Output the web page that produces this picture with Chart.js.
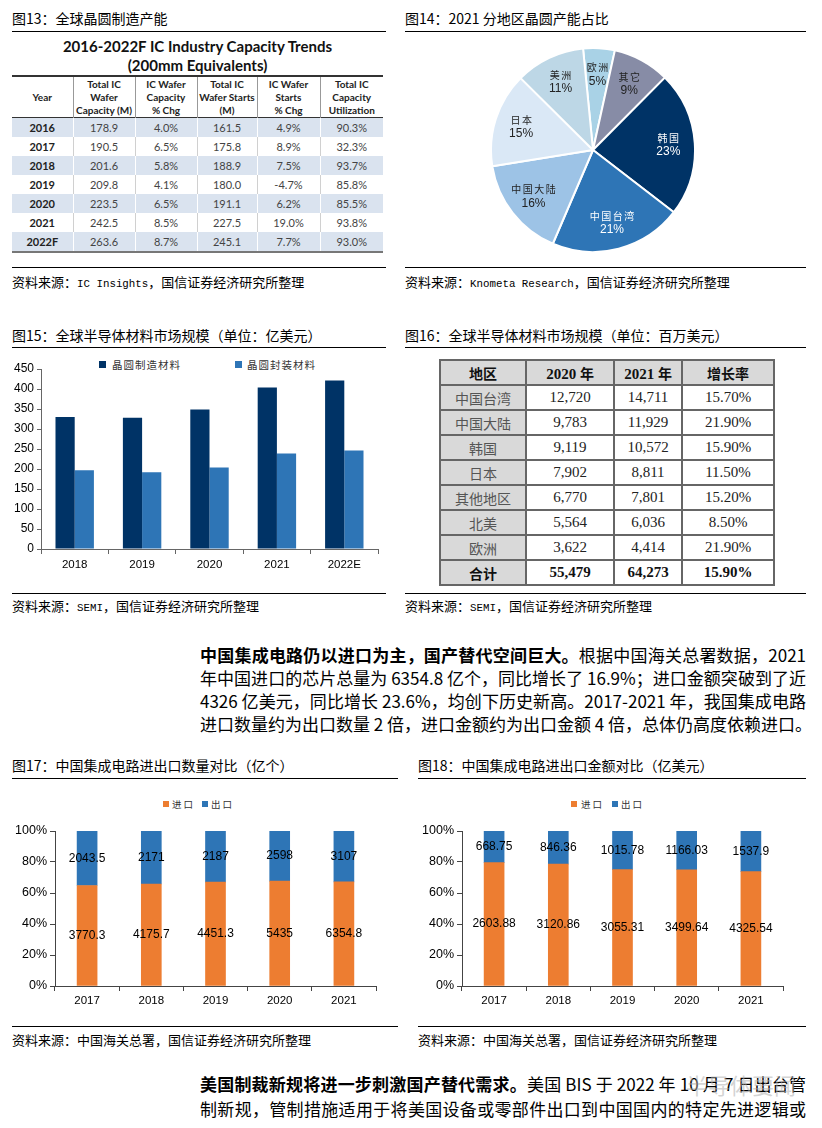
<!DOCTYPE html>
<html><head><meta charset="utf-8">
<script src="https://cdn.jsdelivr.net/npm/chart.js@4.4.0/dist/chart.umd.min.js"></script>
<style>
body{margin:0;background:#fff;width:822px;height:1128px;position:relative;overflow:hidden;font-family:"Noto Sans CJK SC",sans-serif;color:#000;}
.title{position:absolute;font-size:14px;line-height:20px;white-space:nowrap;}
.hr{position:absolute;height:0;border-top:1px solid #000;}
.src{position:absolute;font-size:13px;line-height:18px;white-space:nowrap;}
.mono{font-family:"Liberation Mono",monospace;font-size:10.8px;}
canvas{position:absolute;}
.t13h{position:absolute;left:12px;width:371px;text-align:center;font-family:Lato,"Liberation Sans",sans-serif;font-weight:bold;font-size:15px;line-height:18px;color:#111;}
#t13{position:absolute;left:12px;top:75px;width:371px;border-collapse:collapse;table-layout:fixed;font-family:Lato,"Liberation Sans",sans-serif;}
#t13 th{font-size:10px;font-weight:bold;line-height:13px;height:40px;padding:0;border-right:1px solid #999;vertical-align:middle;color:#222;}
#t13 th:last-child{border-right:none;}
#t13 thead tr{border-top:2px solid #333;border-bottom:1.5px solid #333;}
#t13 td{font-size:11px;height:19px;padding:0;text-align:center;color:#444;border-right:1px solid #d0d0d0;}
#t13 td:last-child{border-right:none;}
#t13 td:first-child{font-weight:bold;color:#222;}
#t13 tbody tr:nth-child(odd){background:#dae3ef;}
#t13 tbody tr:nth-child(odd) td{border-right-color:#fff;}
#t13 tbody tr:last-child{border-bottom:2px solid #777;}
#t16{position:absolute;left:439px;top:359px;width:334px;border-collapse:collapse;table-layout:fixed;border:2px solid #444;}
#t16 td{border:2px solid #666;height:23px;padding:0;text-align:center;font-family:"Liberation Serif",serif;font-size:15px;color:#222;}
#t16 td.reg{background:#d9d9d9;font-family:"Noto Sans CJK SC";font-size:14px;color:#555;}
#t16 tr.head td{background:#d9d9d9;font-weight:bold;color:#111;}
#t16 tr.head td .cj{font-family:"Noto Sans CJK SC";font-size:14px;}
#t16 tr.total td{font-weight:bold;color:#111;}
.para{position:absolute;left:200px;width:606px;font-size:17px;line-height:23px;height:23px;text-align:justify;text-align-last:justify;white-space:nowrap;color:#000;}
.lg{position:absolute;white-space:nowrap;font-size:10.5px;line-height:14px;color:#333;}
.sq{position:absolute;width:7px;height:7px;}
</style></head>
<body>

<!-- Section 1 -->
<div class="title" style="left:12px;top:8px;">图13：全球晶圆制造产能</div>
<div class="hr" style="left:12px;top:31px;width:374px;"></div>
<div class="t13h" style="top:37px;">2016-2022F IC Industry Capacity Trends</div>
<div class="t13h" style="top:56px;">(200mm Equivalents)</div>
<table id="t13"><colgroup><col style="width:61px"><col style="width:62px"><col style="width:62px"><col style="width:60px"><col style="width:63px"><col style="width:63px"></colgroup>
<thead><tr id="t13head"></tr></thead><tbody id="t13body"></tbody></table>
<div class="hr" style="left:12px;top:267px;width:374px;"></div>
<div class="src" style="left:12px;top:273px;">资料来源：<span class="mono">IC Insights</span>，国信证券经济研究所整理</div>

<div class="title" style="left:405px;top:8px;">图14：2021 分地区晶圆产能占比</div>
<div class="hr" style="left:405px;top:31px;width:401px;"></div>
<canvas id="pie" width="206" height="206" style="left:490px;top:47px;"></canvas>
<div class="hr" style="left:405px;top:267px;width:401px;"></div>
<div class="src" style="left:405px;top:273px;">资料来源：<span class="mono">Knometa Research</span>，国信证券经济研究所整理</div>

<!-- Section 2 -->
<div class="title" style="left:12px;top:325px;">图15：全球半导体材料市场规模（单位：亿美元）</div>
<div class="hr" style="left:12px;top:347px;width:374px;"></div>
<div class="sq" style="left:99px;top:361px;background:#003366;"></div>
<div class="lg" style="left:112px;top:358px;letter-spacing:1px;">晶圆制造材料</div>
<div class="sq" style="left:235px;top:361px;background:#2e75b6;"></div>
<div class="lg" style="left:247px;top:358px;letter-spacing:1px;">晶圆封装材料</div>
<canvas id="c15" width="390" height="240" style="left:0px;top:350px;"></canvas>
<div class="hr" style="left:12px;top:593px;width:374px;"></div>
<div class="src" style="left:12px;top:597px;">资料来源：<span class="mono">SEMI</span>，国信证券经济研究所整理</div>

<div class="title" style="left:405px;top:325px;">图16：全球半导体材料市场规模（单位：百万美元）</div>
<div class="hr" style="left:405px;top:347px;width:401px;"></div>
<table id="t16"><colgroup><col style="width:86px"><col style="width:88px"><col style="width:68px"><col style="width:92px"></colgroup><tbody id="t16body"></tbody></table>
<div class="hr" style="left:405px;top:593px;width:401px;"></div>
<div class="src" style="left:405px;top:597px;">资料来源：<span class="mono">SEMI</span>，国信证券经济研究所整理</div>

<!-- Paragraph 1 -->
<div class="para" style="top:643px;"><b>中国集成电路仍以进口为主，国产替代空间巨大。</b>根据中国海关总署数据，2021</div>
<div class="para" style="top:666px;">年中国进口的芯片总量为 6354.8 亿个，同比增长了 16.9%；进口金额突破到了近</div>
<div class="para" style="top:689px;">4326 亿美元，同比增长 23.6%，均创下历史新高。2017-2021 年，我国集成电路</div>
<div class="para" style="top:712px;">进口数量约为出口数量 2 倍，进口金额约为出口金额 4 倍，总体仍高度依赖进口。</div>

<!-- Section 3 -->
<div class="title" style="left:12px;top:755px;">图17：中国集成电路进出口数量对比（亿个）</div>
<div class="hr" style="left:12px;top:778px;width:386px;"></div>
<div class="sq" style="left:163px;top:801px;width:6px;height:6px;background:#ed7d31;"></div>
<div class="lg" style="left:172px;top:797px;font-size:9.5px;letter-spacing:2px;">进口</div>
<div class="sq" style="left:202px;top:801px;width:6px;height:6px;background:#2e75b6;"></div>
<div class="lg" style="left:211px;top:797px;font-size:9.5px;letter-spacing:2px;">出口</div>
<canvas id="c17" width="400" height="210" style="left:0px;top:815px;"></canvas>
<div class="hr" style="left:12px;top:1026px;width:386px;"></div>
<div class="src" style="left:12px;top:1031px;">资料来源：中国海关总署，国信证券经济研究所整理</div>

<div class="title" style="left:418px;top:755px;">图18：中国集成电路进出口金额对比（亿美元）</div>
<div class="hr" style="left:418px;top:778px;width:388px;"></div>
<div class="sq" style="left:571px;top:801px;width:6px;height:6px;background:#ed7d31;"></div>
<div class="lg" style="left:581px;top:797px;font-size:9.5px;letter-spacing:2px;">进口</div>
<div class="sq" style="left:612px;top:801px;width:6px;height:6px;background:#2e75b6;"></div>
<div class="lg" style="left:621px;top:797px;font-size:9.5px;letter-spacing:2px;">出口</div>
<canvas id="c18" width="400" height="210" style="left:410px;top:815px;"></canvas>
<div class="hr" style="left:418px;top:1026px;width:388px;"></div>
<div class="src" style="left:418px;top:1031px;">资料来源：中国海关总署，国信证券经济研究所整理</div>

<!-- Paragraph 2 -->
<div class="para" style="top:1072px;"><b>美国制裁新规将进一步刺激国产替代需求。</b>美国 BIS 于 2022 年 10 月 7 日出台管</div>
<div class="para" style="top:1097px;">制新规，管制措施适用于将美国设备或零部件出口到中国国内的特定先进逻辑或</div>
<div style="position:absolute;left:686px;top:1070px;font-size:22px;line-height:28px;color:rgba(175,175,175,0.55);white-space:nowrap;">半导体要闻</div>

<script>
// ---------- Data ----------
// Fig 13 table
const t13Headers = ['Year','Total IC<br>Wafer<br>Capacity (M)','IC Wafer<br>Capacity<br>% Chg','Total IC<br>Wafer Starts<br>(M)','IC Wafer<br>Starts<br>% Chg','Total IC<br>Capacity<br>Utilization'];
const t13Years = ['2016','2017','2018','2019','2020','2021','2022F'];
const t13Capacity = ['178.9','190.5','201.6','209.8','223.5','242.5','263.6'];
const t13CapChg = ['4.0%','6.5%','5.8%','4.1%','6.5%','8.5%','8.7%'];
const t13Starts = ['161.5','175.8','188.9','180.0','191.1','227.5','245.1'];
const t13StartsChg = ['4.9%','8.9%','7.5%','-4.7%','6.2%','19.0%','7.7%'];
const t13Util = ['90.3%','32.3%','93.7%','85.8%','85.5%','93.8%','93.0%'];

// Fig 14 pie
const pieLabels = ['欧洲','其它','韩国','中国台湾','中国大陆','日本','美洲'];
const pieValues = [5, 9, 23, 21, 16, 15, 11];

// Fig 15 bars
const matYears = ['2018','2019','2020','2021','2022E'];
const waferFab = [330, 328, 349, 404, 421];
const packaging = [197, 192, 204, 239, 246];

// Fig 16 table
const t16Header = ['地区','2020 年','2021 年','增长率'];
const t16Regions = ['中国台湾','中国大陆','韩国','日本','其他地区','北美','欧洲','合计'];
const t16Y2020 = ['12,720','9,783','9,119','7,902','6,770','5,564','3,622','55,479'];
const t16Y2021 = ['14,711','11,929','10,572','8,811','7,801','6,036','4,414','64,273'];
const t16Growth = ['15.70%','21.90%','15.90%','11.50%','15.20%','8.50%','21.90%','15.90%'];

// Fig 17 / 18 stacked
const tradeYears = ['2017','2018','2019','2020','2021'];
const importQty = [3770.3, 4175.7, 4451.3, 5435, 6354.8];
const exportQty = [2043.5, 2171, 2187, 2598, 3107];
const importVal = [2603.88, 3120.86, 3055.31, 3499.64, 4325.54];
const exportVal = [668.75, 846.36, 1015.78, 1166.03, 1537.9];

// ---------- Tables ----------
(function(){
  const hr = document.getElementById('t13head');
  t13Headers.forEach(h=>{const th=document.createElement('th');th.innerHTML=h;hr.appendChild(th);});
  const tb = document.getElementById('t13body');
  t13Years.forEach((y,i)=>{
    const tr=document.createElement('tr');
    [y,t13Capacity[i],t13CapChg[i],t13Starts[i],t13StartsChg[i],t13Util[i]].forEach(v=>{
      const td=document.createElement('td');td.textContent=v;tr.appendChild(td);});
    tb.appendChild(tr);
  });
  const b16=document.getElementById('t16body');
  const h=document.createElement('tr');h.className='head';
  t16Header.forEach(v=>{const td=document.createElement('td');
    td.innerHTML=v.replace(/([\u4e00-\u9fff]+)/g,'<span class="cj">$1</span>');h.appendChild(td);});
  b16.appendChild(h);
  t16Regions.forEach((r,i)=>{
    const tr=document.createElement('tr');
    if(i===t16Regions.length-1) tr.className='total';
    const a=document.createElement('td');a.className='reg';a.textContent=r;
    if(i===t16Regions.length-1){a.style.color='#111';a.style.fontWeight='bold';}
    tr.appendChild(a);
    [t16Y2020[i],t16Y2021[i],t16Growth[i]].forEach(v=>{const td=document.createElement('td');td.textContent=v;tr.appendChild(td);});
    b16.appendChild(tr);
  });
})();

// ---------- Charts ----------
Chart.defaults.font.family = '"Liberation Sans", Arial, sans-serif';
Chart.defaults.color = '#000';
Chart.defaults.animation = false;

const pieColors = ['#a9d2e6','#878ca6','#003366','#2e75b6','#9dc3e6','#dae8f6','#bdd7e6'];
const pieTextColors = ['#222','#222','#fff','#fff','#222','#222','#222'];

const pieLabelPlugin = {
  id:'pieLabels',
  afterDatasetsDraw(chart){
    const ctx=chart.ctx; const meta=chart.getDatasetMeta(0);
    meta.data.forEach((arc,i)=>{
      const p=arc.getProps(['x','y','startAngle','endAngle','outerRadius'],true);
      const mid=(p.startAngle+p.endAngle)/2; const r=p.outerRadius*0.74;
      const x=p.x+Math.cos(mid)*r, y=p.y+Math.sin(mid)*r;
      ctx.save();
      ctx.fillStyle=pieTextColors[i]; ctx.textAlign='center'; ctx.textBaseline='middle';
      ctx.font='10px "Noto Sans CJK SC"';
      ctx.letterSpacing='1.5px';
      ctx.fillText(chart.data.labels[i], x+0.75, y-7);
      ctx.letterSpacing='0px';
      ctx.font='12px "Liberation Sans", Arial';
      ctx.fillText(chart.data.datasets[0].data[i]+'%', x, y+7);
      ctx.restore();
    });
  }
};

new Chart(document.getElementById('pie'),{
  type:'pie',
  data:{labels:pieLabels,datasets:[{data:pieValues,backgroundColor:pieColors,borderColor:'#fff',borderWidth:2,hoverOffset:0}]},
  options:{responsive:false,devicePixelRatio:1,rotation:-5.6,layout:{padding:0},
    plugins:{legend:{display:false},tooltip:{enabled:false}}},
  plugins:[pieLabelPlugin]
});

new Chart(document.getElementById('c15'),{
  type:'bar',
  data:{labels:matYears,datasets:[
    {label:'晶圆制造材料',data:waferFab,backgroundColor:'#003366',categoryPercentage:0.57,barPercentage:1},
    {label:'晶圆封装材料',data:packaging,backgroundColor:'#2e75b6',categoryPercentage:0.57,barPercentage:1}
  ]},
  options:{responsive:false,devicePixelRatio:1,layout:{padding:{left:0,right:12,top:19,bottom:0}},
    plugins:{legend:{display:false},tooltip:{enabled:false}},
    scales:{
      x:{grid:{drawOnChartArea:false,drawTicks:true,tickLength:5,color:'#666'},border:{color:'#666'},
         ticks:{font:{size:11.5},color:'#000',padding:4},afterFit(s){s.height=41;}},
      y:{min:0,max:450,ticks:{stepSize:50,font:{size:12},color:'#000',padding:3},
         grid:{drawOnChartArea:false,tickLength:4,color:'#666'},border:{color:'#666'},afterFit(s){s.width=41;}}
    }}
});

const segLabelPlugin = {
  id:'segLabels',
  afterDatasetsDraw(chart){
    const ctx=chart.ctx;
    chart.data.datasets.forEach((ds,di)=>{
      const meta=chart.getDatasetMeta(di);
      meta.data.forEach((bar,i)=>{
        const p=bar.getProps(['x','y','base'],true);
        ctx.save();
        ctx.font='12px "Liberation Sans", Arial'; ctx.fillStyle='#000';
        ctx.textAlign='center'; ctx.textBaseline='middle';
        ctx.fillText(String(ds.rawValues[i]), p.x, (p.y+p.base)/2);
        ctx.restore();
      });
    });
  }
};

function share(a,b){return a.map((v,i)=>v/(v+b[i])*100);}

function stackedChart(id, imp, exp, yWidth, padRight){
  new Chart(document.getElementById(id),{
    type:'bar',
    data:{labels:tradeYears,datasets:[
      {label:'进口',data:share(imp,exp),rawValues:imp,backgroundColor:'#ed7d31',barThickness:20},
      {label:'出口',data:share(exp,imp),rawValues:exp,backgroundColor:'#2e75b6',barThickness:20}
    ]},
    options:{responsive:false,devicePixelRatio:1,layout:{padding:{left:0,right:padRight,top:16,bottom:0}},
      plugins:{legend:{display:false},tooltip:{enabled:false}},
      scales:{
        x:{stacked:true,grid:{drawOnChartArea:false,drawTicks:true,tickLength:5,color:'#444'},border:{color:'#444'},
           ticks:{font:{size:11.5},color:'#000',padding:3},afterFit(s){s.height=39;}},
        y:{stacked:true,min:0,max:100,ticks:{stepSize:20,font:{size:12.5},color:'#000',padding:3,callback:v=>v+'%'},
           grid:{drawOnChartArea:false,tickLength:5,color:'#444'},border:{color:'#444'},afterFit(s){s.width=yWidth;}}
      }},
    plugins:[segLabelPlugin]
  });
}
stackedChart('c17', importQty, exportQty, 55, 24);
stackedChart('c18', importVal, exportVal, 52, 27);
</script>
</body></html>
